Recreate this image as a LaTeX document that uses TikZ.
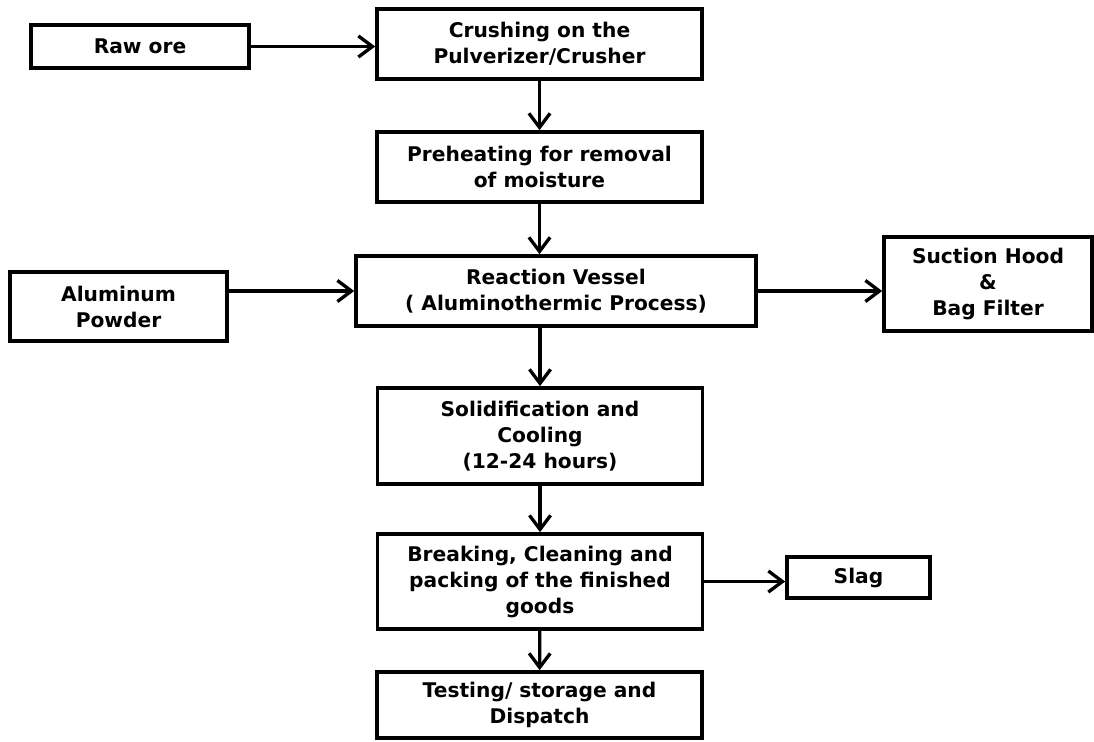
\documentclass[tikz,border=0pt]{standalone}
\usepackage{fontspec}
\setmainfont{DejaVu Sans}
\usetikzlibrary{arrows.meta}

\begin{document}
\begin{tikzpicture}[x=0.02cm, y=-0.02cm, >={Straight Barb[length=8pt,width=12pt]},
  boite/.style={draw=black, line width=2.1pt, align=center, inner sep=2pt,
    font=\bfseries\fontsize{11.5}{14.8}\selectfont},
  fleche/.style={->, line width=1.9pt}]

\useasboundingbox (0,0) rectangle (1094,741);

% Les étapes de la colonne centrale
\node[boite, minimum width=6.5cm, minimum height=1.4cm] (Crush) at (539.5,44) {Crushing on the\\Pulverizer/Crusher};
\node[boite, minimum width=6.5cm, minimum height=1.4cm] (Heat) at (539.5,167) {Preheating for removal\\of moisture};
\node[boite, minimum width=8cm, minimum height=1.4cm] (RV) at (556,291) {Reaction Vessel\\( Aluminothermic Process)};
\node[boite, minimum width=6.5cm, minimum height=1.92cm] (Cool) at (540,436) {Solidification and\\Cooling\\(12-24 hours)};
\node[boite, minimum width=6.5cm, minimum height=1.9cm] (Break) at (540,581.5) {Breaking, Cleaning and\\packing of the finished\\goods};
\node[boite, minimum width=6.5cm, minimum height=1.32cm] (Test) at (539.5,705) {Testing/ storage and\\Dispatch};

% Les entrées (à gauche)
\node[boite, minimum width=4.36cm, minimum height=0.86cm] (Ore) at (140,46.5) {Raw ore};
\node[boite, minimum width=4.34cm, minimum height=1.38cm] (Al) at (118.5,306.5) {Aluminum\\Powder};

% Les sorties (à droite)
\node[boite, minimum width=4.16cm, minimum height=1.88cm] (Hood) at (988,284) {Suction Hood\\\&\\Bag Filter};
\node[boite, minimum width=2.86cm, minimum height=0.82cm] (Slag) at (858.5,577.5) {Slag};

% Les flèches verticales
\foreach \a/\b in {Crush/Heat, Cool/Break, Break/Test}
\draw[fleche] (\a) -- (\b);
\draw[fleche] (Heat.south) -- (Heat.south |- RV.north);
\draw[fleche] (Cool.north |- RV.south) -- (Cool.north);

% Les flèches horizontales
\draw[fleche] (Ore.east) -- (Ore.east -| Crush.west);
\draw[fleche] (RV.west -| Al.east) -- (RV.west);
\draw[fleche] (RV.east) -- (RV.east -| Hood.west);
\draw[fleche] (Break.east) -- (Break.east -| Slag.west);

\end{tikzpicture}
\end{document}
